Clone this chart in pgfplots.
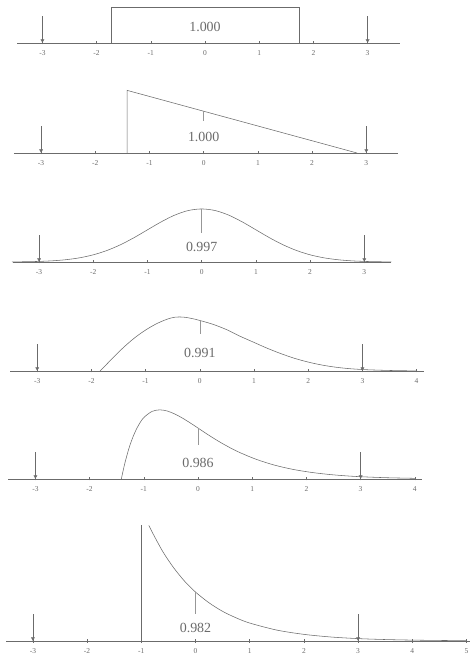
\documentclass[border=0pt]{standalone}
\usepackage{fontspec}
\setmainfont{Liberation Serif}
\usepackage{pgfplots}
\pgfplotsset{compat=1.18}
\usetikzlibrary{arrows.meta}
\definecolor{ink}{gray}{0.42}
\tikzset{val/.style={font=\fontsize{14}{16}\selectfont, text=ink}}
\pgfplotsset{
 panel/.style={
   x=54.2bp, y=133bp, anchor=origin, clip=false,
   axis x line=middle, axis y line=none,
   x axis line style={-, draw=ink, line width=0.6bp},
   ymin=0, ymax=0.9,
   tick align=center, major tick length=3bp,
   xtick style={draw=ink, line width=0.45bp},
   xticklabel style={font=\fontsize{7.5}{8}\selectfont, text=ink, yshift=-3bp},
 },
 crv/.style={draw=ink, line width=0.55bp, no marks},
 mn/.style={draw=ink!70, line width=0.45bp, no marks},
 arr/.style={draw=ink, line width=0.5bp, no marks, -{Latex[length=3.5bp,width=4bp]}},
}
\begin{document}
\begin{tikzpicture}
\path[use as bounding box] (0,0) rectangle (473bp,661bp);

% Panel 1: uniform
\begin{axis}[panel, at={(205bp,618bp)}, xmin=-3.46, xmax=3.6,
  xtick={-3,...,3}, xticklabels={-3,-2,-1,0,1,2,3}]
\addplot[crv] coordinates {(-1.732,0) (-1.732,0.27) (1.732,0.27) (1.732,0)};
\addplot[arr] coordinates {(-3,0.2) (-3,0)};
\addplot[arr] coordinates {(3,0.2) (3,0)};
\node[val] at (axis cs:0,0.12) {1.000};
\end{axis}

% Panel 2: right triangle
\begin{axis}[panel, at={(203.7bp,508bp)}, xmin=-3.5, xmax=3.58,
  xtick={-3,...,3}, xticklabels={-3,-2,-1,0,1,2,3}]
\addplot[crv] coordinates {(-1.414,0) (-1.414,0.471) (2.828,0)};
\addplot[mn] coordinates {(0,0.314) (0,0.24)};
\addplot[arr] coordinates {(-3,0.2) (-3,0)};
\addplot[arr] coordinates {(3,0.2) (3,0)};
\node[val] at (axis cs:0,0.12) {1.000};
\end{axis}

% Panel 3: normal
\begin{axis}[panel, at={(201.7bp,399bp)}, xmin=-3.49, xmax=3.49,
  xtick={-3,...,3}, xticklabels={-3,-2,-1,0,1,2,3}]
\addplot[crv, smooth] coordinates {
 (-3.5,0.0009) (-3.25,0.0020) (-3,0.0044) (-2.75,0.0091) (-2.5,0.0175) (-2.25,0.0317)
 (-2,0.0540) (-1.75,0.0863) (-1.5,0.1295) (-1.25,0.1826) (-1,0.2420) (-0.75,0.3011)
 (-0.5,0.3521) (-0.25,0.3867) (0,0.3989) (0.25,0.3867) (0.5,0.3521) (0.75,0.3011)
 (1,0.2420) (1.25,0.1826) (1.5,0.1295) (1.75,0.0863) (2,0.0540) (2.25,0.0317)
 (2.5,0.0175) (2.75,0.0091) (3,0.0044) (3.25,0.0020) (3.5,0.0009)};
\addplot[mn] coordinates {(0,0.399) (0,0.22)};
\addplot[arr] coordinates {(-3,0.2) (-3,0)};
\addplot[arr] coordinates {(3,0.2) (3,0)};
\node[val] at (axis cs:0,0.113) {0.997};
\end{axis}

% Panel 4: moderately skewed
\begin{axis}[panel, at={(199.8bp,290bp)}, xmin=-3.5, xmax=4.13,
  xtick={-3,...,4}, xticklabels={-3,-2,-1,0,1,2,3,4}]
\addplot[crv, smooth] coordinates {
 (-1.84,0) (-1.6,0.10) (-1.4,0.18) (-1.2,0.25) (-1.0,0.308) (-0.8,0.355)
 (-0.6,0.39) (-0.45,0.405) (-0.3,0.405) (-0.15,0.395) (0,0.38) (0.25,0.35)
 (0.5,0.31) (0.75,0.26) (1.0,0.215) (1.25,0.17) (1.5,0.13) (1.75,0.095)
 (2.0,0.067) (2.25,0.045) (2.5,0.029) (2.75,0.018) (3.0,0.011) (3.25,0.007)
 (3.5,0.004) (3.75,0.002) (4.0,0.001)};
\addplot[mn] coordinates {(0,0.38) (0,0.275)};
\addplot[arr] coordinates {(-3,0.2) (-3,0)};
\addplot[arr] coordinates {(3,0.2) (3,0)};
\node[val] at (axis cs:0,0.135) {0.991};
\end{axis}

% Panel 5: chi-square like
\begin{axis}[panel, at={(198bp,182bp)}, xmin=-3.5, xmax=4.13,
  xtick={-3,...,4}, xticklabels={-3,-2,-1,0,1,2,3,4}]
\addplot[crv, smooth, tension=0.5] coordinates {
 (-1.414,0) (-1.400,0.028) (-1.379,0.067) (-1.344,0.128) (-1.273,0.232) (-1.202,0.314)
 (-1.131,0.379) (-1.061,0.429) (-0.990,0.466) (-0.849,0.508) (-0.707,0.520)
 (-0.566,0.511) (-0.424,0.488) (-0.283,0.457) (-0.141,0.421) (0,0.383)
 (0.212,0.326) (0.424,0.273) (0.707,0.211) (1.061,0.150) (1.414,0.104)
 (1.768,0.071) (2.121,0.048) (2.475,0.032) (2.828,0.021) (3.182,0.014)
 (3.536,0.009) (3.889,0.006) (4.0,0.005)};
\addplot[mn] coordinates {(0,0.383) (0,0.255)};
\addplot[arr] coordinates {(-3,0.2) (-3,0)};
\addplot[arr] coordinates {(3,0.2) (3,0)};
\node[val] at (axis cs:0,0.12) {0.986};
\end{axis}

% Panel 6: exponential
\begin{axis}[panel, at={(195.5bp,20bp)}, xmin=-3.49, xmax=5.06,
  xtick={-3,...,5}, xticklabels={-3,-2,-1,0,1,2,3,4,5}]
\addplot[crv] coordinates {(-1,0) (-1,0.87)};
\addplot[crv, smooth] coordinates {
 (-0.86,0.869) (-0.8,0.819) (-0.6,0.670) (-0.4,0.549) (-0.2,0.449) (0,0.368)
 (0.25,0.287) (0.5,0.223) (0.75,0.174) (1.0,0.135) (1.5,0.082) (2.0,0.050)
 (2.5,0.030) (3.0,0.018) (3.5,0.011) (4.0,0.0067) (4.5,0.0041) (5.0,0.0025)};
\addplot[mn] coordinates {(0,0.368) (0,0.2)};
\addplot[arr] coordinates {(-3,0.2) (-3,0)};
\addplot[arr] coordinates {(3,0.2) (3,0)};
\node[val] at (axis cs:0,0.1) {0.982};
\end{axis}
\end{tikzpicture}
\end{document}
